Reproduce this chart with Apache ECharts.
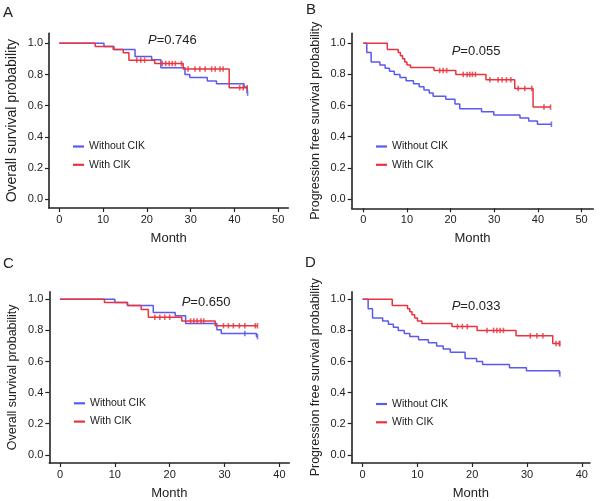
<!DOCTYPE html>
<html>
<head>
<meta charset="utf-8">
<script src="https://cdn.jsdelivr.net/npm/echarts@6/dist/echarts.min.js"></script>
<style>
html,body{margin:0;padding:0;background:#fff;}
#chart{width:600px;height:501px;}
</style>
</head>
<body>
<div id="chart"></div>
<script>
// A: overall survival, all patients
var aBlueT = [0, 10.2, 12.5, 17.3, 21.1, 23.2, 28.7, 29.8, 33.8, 35.9, 42.2, 42.9];
var aBlueS = [1.0, 0.98, 0.96, 0.915, 0.895, 0.843, 0.80, 0.78, 0.758, 0.74, 0.72, 0.68];
var aBlueCens = [43.0];
var aRedT = [0, 8.2, 12.3, 14.6, 15.9, 21.8, 28.3, 38.8];
var aRedS = [1.0, 0.98, 0.96, 0.94, 0.892, 0.87, 0.835, 0.715];
var aRedCens = [17.7, 18.6, 19.5, 23.5, 24.3, 25.1, 25.8, 26.5, 27.9, 29.4, 31.0, 32.1, 33.3, 34.8, 35.6, 36.7, 37.4, 41.2, 42.0, 42.9];

// B: progression free survival, all patients
var bBlueT = [0, 0.8, 1.8, 3.8, 5.0, 6.0, 7.1, 8.4, 9.8, 11.5, 12.8, 13.9, 15.1, 16.0, 18.9, 21.0, 22.1, 27.1, 29.9, 35.9, 37.9, 39.9];
var bBlueS = [1.0, 0.94, 0.88, 0.86, 0.84, 0.82, 0.80, 0.78, 0.76, 0.74, 0.72, 0.70, 0.68, 0.66, 0.64, 0.61, 0.58, 0.56, 0.54, 0.52, 0.50, 0.48];
var bBlueCens = [43.1];
var bRedT = [0, 5.5, 8.0, 8.5, 9.0, 9.5, 10.0, 10.8, 16.2, 21.2, 28.1, 34.7, 38.9];
var bRedS = [1.0, 0.96, 0.94, 0.92, 0.90, 0.88, 0.86, 0.845, 0.825, 0.80, 0.765, 0.71, 0.59];
var bRedCens = [17.5, 18.3, 19.1, 22.9, 23.8, 24.4, 25.0, 25.7, 29.0, 30.9, 31.8, 32.8, 33.8, 35.5, 37.0, 38.6, 41.4, 42.9];

// C: overall survival, subgroup
var cBlueT = [0, 10.0, 12.3, 17.0, 21.0, 22.9, 28.6, 29.4, 35.8];
var cBlueS = [1.0, 0.98, 0.96, 0.915, 0.895, 0.845, 0.805, 0.78, 0.76];
var cBlueCens = [33.7, 36.0];
var cRedT = [0, 8.1, 12.3, 14.8, 16.1, 22.2, 28.3];
var cRedS = [1.0, 0.98, 0.96, 0.935, 0.885, 0.86, 0.83];
var cRedCens = [17.3, 18.2, 19.1, 20.0, 23.8, 24.4, 25.0, 25.7, 26.2, 29.8, 30.7, 31.6, 32.7, 33.7, 35.6, 36.0];

// D: progression free survival, subgroup
var dBlueT = [0, 1.0, 1.8, 3.65, 4.7, 5.6, 6.5, 7.6, 8.6, 10.2, 12.0, 13.5, 14.7, 16.0, 18.7, 20.8, 21.9, 26.8, 29.9, 35.9];
var dBlueS = [1.0, 0.94, 0.88, 0.86, 0.84, 0.82, 0.80, 0.78, 0.76, 0.74, 0.72, 0.70, 0.68, 0.66, 0.62, 0.60, 0.58, 0.56, 0.54, 0.52];
var dBlueCens = [36.0];
var dRedT = [0, 5.4, 8.2, 8.6, 9.0, 9.5, 10.0, 10.8, 16.3, 20.9, 28.0, 34.7];
var dRedS = [1.0, 0.96, 0.94, 0.92, 0.90, 0.88, 0.86, 0.845, 0.825, 0.80, 0.765, 0.715];
var dRedCens = [17.3, 18.2, 19.1, 22.7, 23.9, 24.5, 25.1, 25.7, 30.6, 31.8, 32.9, 35.3, 35.9, 36.0];

var xTicks50 = [0, 10, 20, 30, 40, 50];
var xTicks40 = [0, 10, 20, 30, 40];
var yTicks = [0, 0.2, 0.4, 0.6, 0.8, 1.0];
var pLabels = ['0.746', '0.055', '0.650', '0.033'];
var panelLetters = ['A', 'B', 'C', 'D'];
var yNames = ['Overall survival probability', 'Progression free survival probability',
              'Overall survival probability', 'Progression free survival probability'];
var groupNames = ['Without CIK', 'With CIK'];

var BLUE = '#5a5aee', RED = '#e8343e';
var FONT = "'Liberation Sans', Arial, Helvetica, sans-serif";

var panels = [
  {grid: {left: 49, top: 33.3, width: 239.3, height: 174.7}, xMin: -2.35, xMax: 52.3, yMin: -0.056, yMax: 1.064, xTicks: xTicks50, yNameSize: 14,
   blue: [aBlueT, aBlueS, aBlueCens], red: [aRedT, aRedS, aRedCens], p: [148, 42], letter: [3, 13.8], legend: [73, 140.5]},
  {grid: {left: 351.7, top: 33.3, width: 241.6, height: 175}, xMin: -2.66, xMax: 52.7, yMin: -0.06, yMax: 1.064, xTicks: xTicks50, yNameSize: 12.5,
   blue: [bBlueT, bBlueS, bBlueCens], red: [bRedT, bRedS, bRedCens], p: [451.7, 53], letter: [306, 10.5], legend: [376, 140.5]},
  {grid: {left: 49.3, top: 291.7, width: 240, height: 171.6}, xMin: -1.95, xMax: 41.8, yMin: -0.053, yMax: 1.049, xTicks: xTicks40, yNameSize: 12.5,
   blue: [cBlueT, cBlueS, cBlueCens], red: [cRedT, cRedS, cRedCens], p: [181.7, 304], letter: [3, 264.5], legend: [74, 397.3]},
  {grid: {left: 351.7, top: 291.7, width: 238.3, height: 171.6}, xMin: -2.0, xMax: 41.5, yMin: -0.053, yMax: 1.049, xTicks: xTicks40, yNameSize: 12.5,
   blue: [dBlueT, dBlueS, dBlueCens], red: [dRedT, dRedS, dRedCens], p: [451.7, 308], letter: [305, 263], legend: [376, 398]}
];

function stepAt(ts, ss, t) {
  var v = ss[0];
  for (var i = 0; i < ts.length; i++) {
    if (ts[i] <= t) v = ss[i];
  }
  return v;
}
function curveData(ts, ss, cens) {
  var d = [];
  for (var i = 0; i < ts.length; i++) d.push([ts[i], ss[i]]);
  var tEnd = ts[ts.length - 1];
  if (cens.length && cens[cens.length - 1] > tEnd) tEnd = cens[cens.length - 1];
  d.push([tEnd, ss[ss.length - 1]]);
  return d;
}
function censData(ts, ss, cens) {
  return cens.map(function (t) { return [t, stepAt(ts, ss, t)]; });
}

var grids = [], xAxes = [], yAxes = [], series = [], legends = [], graphics = [];
panels.forEach(function (p, i) {
  grids.push(p.grid);
  xAxes.push({
    type: 'value', gridIndex: i, min: p.xMin, max: p.xMax,
    name: 'Month', nameLocation: 'middle', nameGap: 24,
    nameTextStyle: {fontFamily: FONT, fontSize: 13, color: '#222'},
    axisLine: {show: true, onZero: false, lineStyle: {color: '#222', width: 1.6}},
    axisTick: {show: true, length: 4, customValues: p.xTicks, lineStyle: {color: '#222', width: 1.2}},
    axisLabel: {customValues: p.xTicks, margin: 6, fontFamily: FONT, fontSize: 11, color: '#222'},
    splitLine: {show: false}
  });
  yAxes.push({
    type: 'value', gridIndex: i, min: p.yMin, max: p.yMax,
    name: yNames[i], nameLocation: 'middle', nameRotate: 90, nameGap: 30,
    nameTextStyle: {fontFamily: FONT, fontSize: p.yNameSize, color: '#222'},
    axisLine: {show: true, onZero: false, lineStyle: {color: '#222', width: 1.6}},
    axisTick: {show: true, length: 4, customValues: yTicks, lineStyle: {color: '#222', width: 1.2}},
    axisLabel: {customValues: yTicks, margin: 6, fontFamily: FONT, fontSize: 11, color: '#222',
      formatter: function (v) { return v.toFixed(1); }},
    splitLine: {show: false}
  });
  [[p.blue, BLUE, groupNames[0]], [p.red, RED, groupNames[1]]].forEach(function (g) {
    var d = g[0];
    series.push({
      name: g[2], type: 'line', step: 'end', xAxisIndex: i, yAxisIndex: i,
      data: curveData(d[0], d[1], d[2]), symbol: 'none',
      lineStyle: {color: g[1], width: 1.5}, itemStyle: {color: g[1]}, z: 3
    });
    series.push({
      name: g[2] + ' censored', type: 'scatter', xAxisIndex: i, yAxisIndex: i,
      data: censData(d[0], d[1], d[2]), symbol: 'rect', symbolSize: [1.6, 5.5],
      itemStyle: {color: g[1]}, z: 4
    });
  });
  legends.push({
    data: groupNames, orient: 'vertical', left: p.legend[0], top: p.legend[1],
    icon: 'rect', itemWidth: 11, itemHeight: 2.2, itemGap: 6.3, padding: 0,
    textStyle: {fontFamily: FONT, fontSize: 10.5, color: '#222', lineHeight: 12}
  });
  graphics.push({
    type: 'text', left: p.p[0], top: p.p[1] - 8,
    style: {text: '{i|P}=' + pLabels[i], fontFamily: FONT, fontSize: 13, fill: '#222',
      rich: {i: {fontStyle: 'italic', fontFamily: FONT, fontSize: 13, fill: '#222'}}}
  });
  graphics.push({
    type: 'text', left: p.letter[0], top: p.letter[1] - 8,
    style: {text: panelLetters[i], fontFamily: FONT, fontSize: 15, fill: '#222'}
  });
});

var chart = echarts.init(document.getElementById('chart'), null, {renderer: 'canvas'});
chart.setOption({
  animation: false,
  backgroundColor: '#fff',
  grid: grids,
  xAxis: xAxes,
  yAxis: yAxes,
  legend: legends,
  series: series,
  graphic: graphics
});
</script>
</body>
</html>
